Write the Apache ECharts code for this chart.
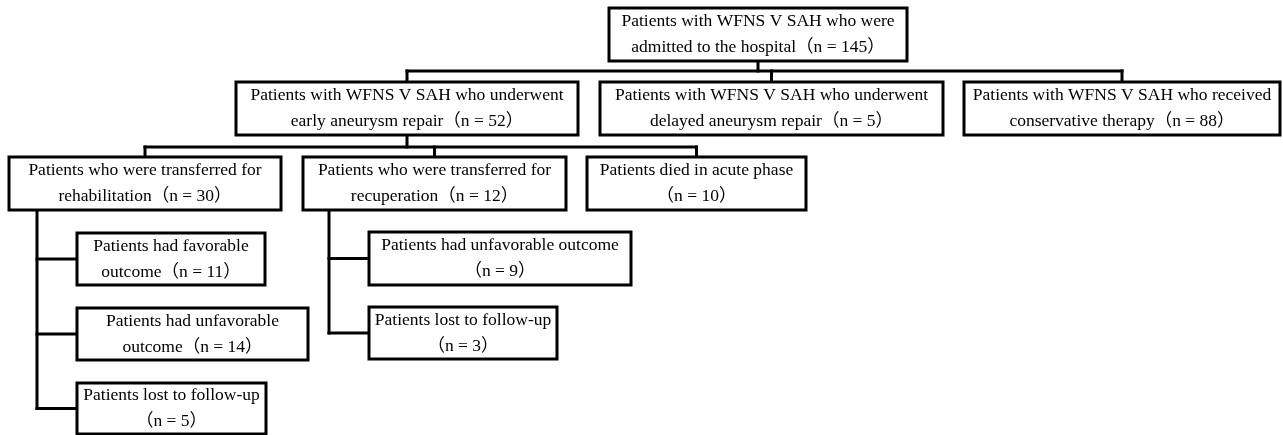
<!DOCTYPE html>
<html>
<head>
<meta charset="utf-8">
<script src="https://cdn.jsdelivr.net/npm/echarts@6/dist/echarts.min.js"></script>
<style>
  html, body { margin: 0; padding: 0; background: #fff; }
  #chart { width: 1283px; height: 435px; }
</style>
</head>
<body>
<div id="chart"></div>
<script>
// node texts (first line, second line before the count)
const firstLines = [
  'Patients with WFNS V SAH who were',
  'Patients with WFNS V SAH who underwent',
  'Patients with WFNS V SAH who underwent',
  'Patients with WFNS V SAH who received',
  'Patients who were transferred for',
  'Patients who were transferred for',
  'Patients died in acute phase',
  'Patients had favorable',
  'Patients had unfavorable',
  'Patients lost to follow-up',
  'Patients had unfavorable outcome',
  'Patients lost to follow-up'
]
const secondLines = [
  'admitted to the hospital',
  'early aneurysm repair',
  'delayed aneurysm repair',
  'conservative therapy',
  'rehabilitation',
  'recuperation',
  '',
  'outcome',
  'outcome',
  '',
  '',
  ''
]
const counts = [145, 52, 5, 88, 30, 12, 10, 11, 14, 5, 9, 3]
const parents = [-1, 0, 0, 0, 1, 1, 1, 4, 4, 4, 5, 5]

// layout: box rectangles [x1, y1, x2, y2] in page pixels
const boxes = [
  [609, 8, 907, 61],
  [236, 82, 578, 135],
  [600, 82, 943, 135],
  [964, 82, 1280, 135],
  [9, 157, 281, 210],
  [303, 157, 566, 210],
  [587, 157, 806, 210],
  [77, 233, 265, 285],
  [77, 308, 308, 360],
  [77, 383, 266, 434],
  [369, 232, 631, 285],
  [369, 307, 557, 359]
]
// how children hang off a parent: bus line y, or side rail x
const busY = { 0: 71, 1: 147 }
const railX = { 4: 37, 5: 329 }

const FONT = "17.5px 'Liberation Serif', 'Noto Sans CJK JP', serif"

function label(i) {
  const n = '（n = ' + counts[i] + '）'
  return firstLines[i] + '\n' + (secondLines[i] ? secondLines[i] + n : n)
}

// build connector polylines
const links = []
const cx = b => (b[0] + b[2]) / 2
const cy = b => (b[1] + b[3]) / 2
Object.keys(busY).forEach(k => {
  const p = +k
  const kids = parents.map((q, i) => (q === p ? i : -1)).filter(i => i >= 0)
  const y = busY[p]
  const pb = boxes[p]
  links.push({ coords: [[cx(pb), pb[3]], [cx(pb), y]] })
  const xs = kids.map(i => cx(boxes[i]))
  links.push({ coords: [[Math.min(...xs), y], [Math.max(...xs), y]] })
  kids.forEach(i => links.push({ coords: [[cx(boxes[i]), y], [cx(boxes[i]), boxes[i][1]]] }))
})
Object.keys(railX).forEach(k => {
  const p = +k
  const kids = parents.map((q, i) => (q === p ? i : -1)).filter(i => i >= 0)
  const x = railX[p]
  const last = boxes[kids[kids.length - 1]]
  links.push({ coords: [[x, boxes[p][3]], [x, cy(last)]] })
  kids.forEach(i => links.push({ coords: [[x, cy(boxes[i])], [boxes[i][0], cy(boxes[i])]] }))
})

const chart = echarts.init(document.getElementById('chart'))
chart.setOption({
  animation: false,
  grid: { left: 0, right: 0, top: 0, bottom: 0 },
  xAxis: { type: 'value', min: 0, max: 1283, show: false },
  yAxis: { type: 'value', min: 0, max: 435, inverse: true, show: false },
  series: [
    {
      type: 'lines',
      coordinateSystem: 'cartesian2d',
      polyline: true,
      z: 1,
      lineStyle: { color: '#000', width: 3, opacity: 1, cap: 'square' },
      data: links
    },
    {
      type: 'custom',
      z: 2,
      clip: false,
      data: boxes.map((b, i) => [b[0], b[1], b[2], b[3], i]),
      renderItem(params, api) {
        const p1 = api.coord([api.value(0), api.value(1)])
        const p2 = api.coord([api.value(2), api.value(3)])
        const i = api.value(4)
        return {
          type: 'group',
          children: [
            {
              type: 'rect',
              shape: { x: p1[0], y: p1[1], width: p2[0] - p1[0], height: p2[1] - p1[1] },
              style: { fill: '#fff', stroke: '#000', lineWidth: 3 }
            },
            {
              type: 'text',
              x: (p1[0] + p2[0]) / 2,
              y: (p1[1] + p2[1]) / 2,
              style: {
                text: label(i),
                font: FONT,
                fill: '#000',
                align: 'center',
                verticalAlign: 'middle',
                lineHeight: 26
              }
            }
          ]
        }
      }
    }
  ]
})
window.addEventListener('resize', () => chart.resize())
</script>
</body>
</html>
